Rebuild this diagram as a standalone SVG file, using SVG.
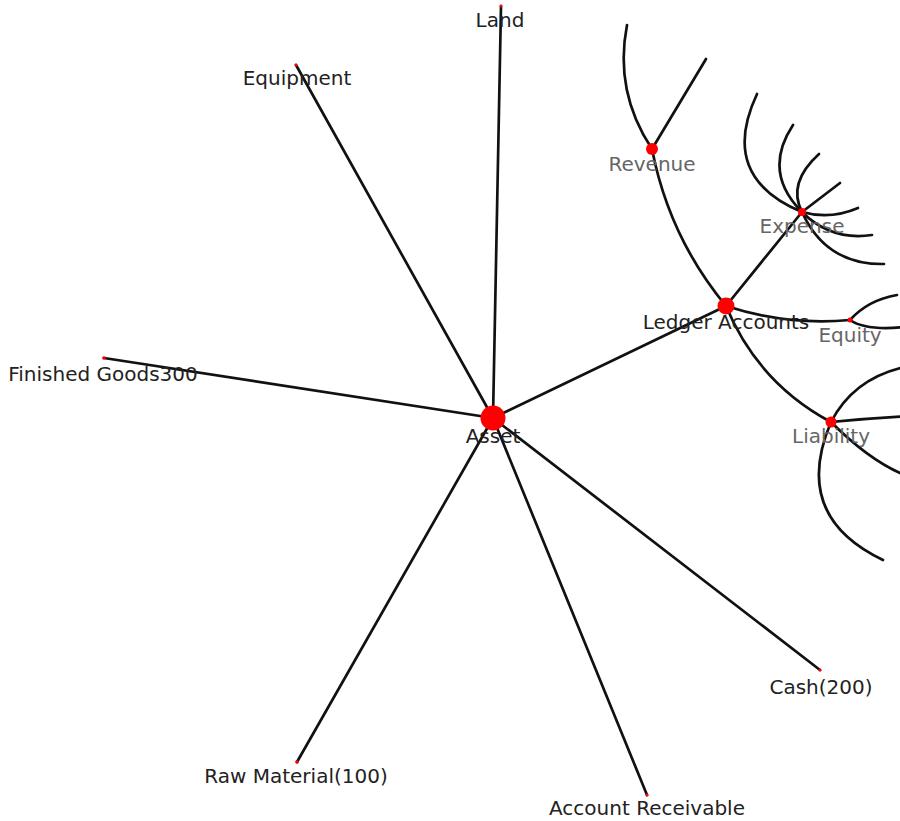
<svg xmlns="http://www.w3.org/2000/svg" width="900" height="821" viewBox="0 0 900 821">
  <style>
    .link { fill: none; stroke: #111; stroke-width: 2.7; stroke-linecap: round; }
    .node circle { fill: #ff0000; }
    .node text { font-family: "DejaVu Sans", Verdana, sans-serif; font-size: 20px; text-anchor: middle; fill: #222; }
    .node.sub text { fill: #666; }
  </style>
  <rect width="900" height="821" fill="#ffffff"/>

  <!-- links -->
  <g id="links">
    <!-- Asset spokes -->
    <line class="link" x1="493" y1="418" x2="501" y2="6"/>
    <line class="link" x1="493" y1="418" x2="296" y2="65"/>
    <line class="link" x1="493" y1="418" x2="104" y2="358"/>
    <line class="link" x1="493" y1="418" x2="297" y2="762"/>
    <line class="link" x1="493" y1="418" x2="647" y2="795"/>
    <line class="link" x1="493" y1="418" x2="820" y2="670"/>
    <line class="link" x1="493" y1="418" x2="726" y2="306"/>
    <!-- Ledger Accounts branches -->
    <path class="link" d="M726,306 Q669,237 652,149"/>
    <line class="link" x1="726" y1="306" x2="802" y2="212"/>
    <path class="link" d="M726,306 Q788,326 850,320"/>
    <path class="link" d="M726,306 Q758,383 831,422"/>
    <!-- Revenue children -->
    <path class="link" d="M652,149 Q614,92 627,25"/>
    <line class="link" x1="652" y1="149" x2="706" y2="59"/>
    <!-- Expense children -->
    <path class="link" d="M802,212 Q718,177 757,94"/>
    <path class="link" d="M802,212 Q762,172 793,125"/>
    <path class="link" d="M802,212 Q787,183 819,154"/>
    <line class="link" x1="802" y1="212" x2="840" y2="183"/>
    <path class="link" d="M802,212 Q830,220 858,208"/>
    <path class="link" d="M802,212 Q831,241 872,235"/>
    <path class="link" d="M802,212 Q826,265 884,264"/>
    <!-- Equity children -->
    <path class="link" d="M850,320 Q868,300 897,295"/>
    <path class="link" d="M850,320 Q866,331 905,327"/>
    <!-- Liability children -->
    <path class="link" d="M831,422 Q855,376 910,366"/>
    <path class="link" d="M831,422 Q870,418 910,416"/>
    <path class="link" d="M831,422 Q873,464 910,477"/>
    <path class="link" d="M831,422 Q791,516 883,560"/>
  </g>

  <!-- nodes -->
  <g id="node-asset" class="node"><circle cx="493" cy="418" r="12.5"/><text x="493" y="443">Asset</text></g>
  <g id="node-land" class="node"><circle cx="501" cy="6" r="1.5"/><text x="500" y="27">Land</text></g>
  <g id="node-equipment" class="node"><circle cx="296" cy="65" r="1.5"/><text x="297" y="85">Equipment</text></g>
  <g id="node-finished-goods" class="node"><circle cx="104" cy="358" r="1.8"/><text x="103" y="381">Finished Goods300</text></g>
  <g id="node-raw-material" class="node"><circle cx="297" cy="762" r="1.8"/><text x="296" y="783">Raw Material(100)</text></g>
  <g id="node-account-receivable" class="node"><circle cx="647" cy="795" r="1.5"/><text x="647" y="815">Account Receivable</text></g>
  <g id="node-cash" class="node"><circle cx="820" cy="670" r="1.5"/><text x="821" y="694">Cash(200)</text></g>
  <g id="node-ledger" class="node"><circle cx="726" cy="306" r="8.5"/><text x="726" y="329">Ledger Accounts</text></g>
  <g id="node-revenue" class="node sub"><circle cx="652" cy="149" r="6"/><text x="652" y="171">Revenue</text></g>
  <g id="node-expense" class="node sub"><circle cx="802" cy="212" r="4"/><text x="802" y="233">Expense</text></g>
  <g id="node-equity" class="node sub"><circle cx="850" cy="320" r="2.5"/><text x="850" y="342">Equity</text></g>
  <g id="node-liability" class="node sub"><circle cx="831" cy="422" r="5.5"/><text x="831" y="443">Liability</text></g>
</svg>
